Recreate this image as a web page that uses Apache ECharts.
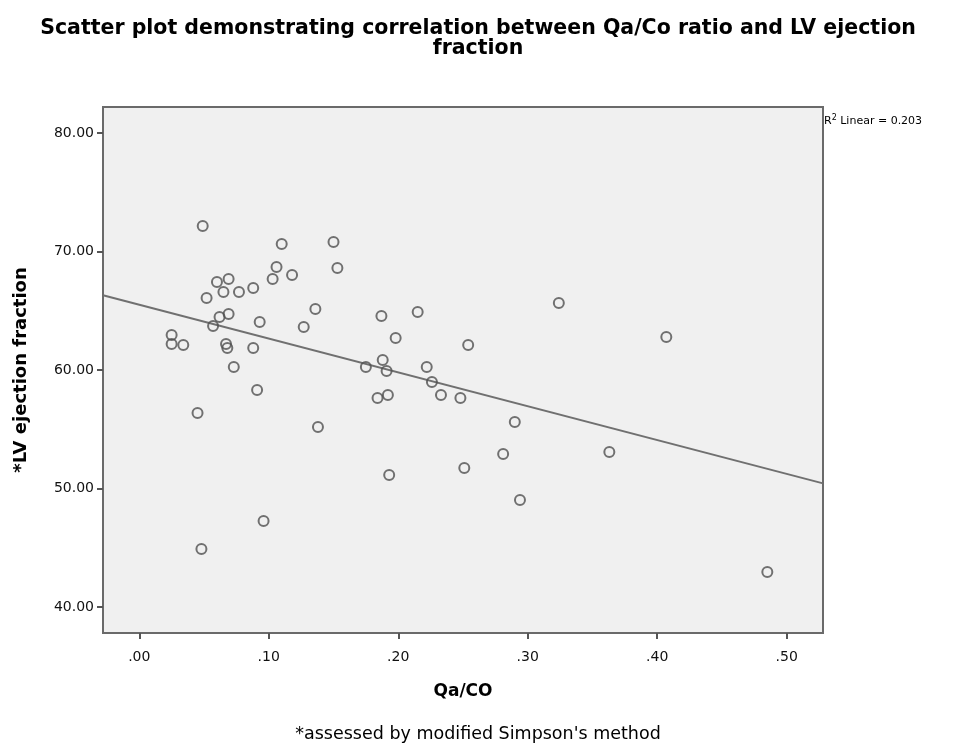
<!DOCTYPE html>
<html>
<head>
<meta charset="utf-8">
<title>Qa/CO vs LV ejection fraction</title>
<script src="https://cdn.jsdelivr.net/npm/echarts@6/dist/echarts.min.js"></script>
<style>
  html, body { margin: 0; padding: 0; background: #fff; }
  #main { width: 956px; height: 748px; }
</style>
</head>
<body>
<div id="main"></div>
<script>
// Qa/CO ratio (x) and LV ejection fraction (y)
var qaCo = [0.049, 0.110, 0.150, 0.106, 0.103, 0.118, 0.153, 0.060, 0.069, 0.065,
            0.077, 0.088, 0.052, 0.136, 0.062, 0.069, 0.057, 0.093, 0.127, 0.187,
            0.215, 0.198, 0.254, 0.324, 0.407, 0.025, 0.025, 0.034, 0.067, 0.068,
            0.088, 0.073, 0.188, 0.191, 0.175, 0.222, 0.226, 0.233, 0.248, 0.192,
            0.184, 0.091, 0.045, 0.138, 0.290, 0.281, 0.363, 0.251, 0.193, 0.294,
            0.096, 0.048, 0.485];
var lvef = [72.15, 70.63, 70.80, 68.69, 67.68, 68.02, 68.61, 67.43, 67.68, 66.58,
            66.58, 66.92, 66.08, 65.15, 64.47, 64.73, 63.71, 64.05, 63.63, 64.56,
            64.89, 62.70, 62.11, 65.65, 62.78, 62.95, 62.19, 62.11, 62.19, 61.86,
            61.86, 60.25, 60.84, 59.92, 60.25, 60.25, 58.99, 57.89, 57.64, 57.89,
            57.64, 58.31, 56.37, 55.19, 55.61, 52.91, 53.08, 51.73, 51.14, 49.03,
            47.26, 44.89, 42.95];
var xTicks = [0, 0.1, 0.2, 0.3, 0.4, 0.5];
var yTicks = [40, 50, 60, 70, 80];
var xRange = [-0.028, 0.528];
var yRange = [37.8, 82.2];
var r2Text = '0.203';

var points = qaCo.map(function (x, i) { return [x, lvef[i]]; });

// least squares fit line
var n = qaCo.length, sx = 0, sy = 0, sxx = 0, sxy = 0;
for (var i = 0; i < n; i++) {
  sx += qaCo[i]; sy += lvef[i];
  sxx += qaCo[i] * qaCo[i]; sxy += qaCo[i] * lvef[i];
}
var slope = (n * sxy - sx * sy) / (n * sxx - sx * sx);
var icpt = (sy - slope * sx) / n;
var fitLine = xRange.map(function (x) { return [x, icpt + slope * x]; });

var myChart = echarts.init(document.getElementById('main'));

var font = 'DejaVu Sans, Liberation Sans, sans-serif';

var option = {
  backgroundColor: '#ffffff',
  animation: false,
  textStyle: { fontFamily: font },
  title: {
    text: 'Scatter plot demonstrating correlation between Qa/Co ratio and LV ejection\nfraction',
    left: 'center',
    top: 14,
    textStyle: { fontSize: 20.5, fontWeight: 'bold', color: '#000', lineHeight: 20, fontFamily: font }
  },
  grid: {
    left: 103, right: 133, top: 107, bottom: 115,
    show: true,
    backgroundColor: '#f0f0f0',
    borderColor: '#6a6a6a',
    borderWidth: 2
  },
  graphic: [{
    type: 'text',
    left: 824, top: 114,
    style: {
      text: '{a|R}{s|2}{a| Linear = ' + r2Text + '}',
      rich: {
        a: { fontSize: 11, fill: '#000', fontFamily: font },
        s: { fontSize: 8, fill: '#000', verticalAlign: 'top', padding: [0, 0, 6, 0], fontFamily: font }
      }
    }
  }, {
    type: 'text',
    left: 'center', top: 725,
    style: { text: "*assessed by modified Simpson's method", fontSize: 17.5, fill: '#000', fontFamily: font }
  }],
  xAxis: {
    type: 'value',
    min: xRange[0], max: xRange[1],
    name: 'Qa/CO',
    nameLocation: 'middle',
    nameGap: 50,
    nameTextStyle: { fontSize: 17, fontWeight: 'bold', color: '#000' },
    axisLine: { show: false, onZero: false },
    splitLine: { show: false },
    axisTick: { show: true, customValues: xTicks, length: 6, lineStyle: { color: '#555', width: 2 } },
    axisLabel: {
      customValues: xTicks,
      margin: 17,
      fontSize: 14,
      color: '#111',
      formatter: function (v) { return v.toFixed(2).replace(/^0/, ''); }
    }
  },
  yAxis: {
    type: 'value',
    min: yRange[0], max: yRange[1],
    name: '*LV ejection fraction',
    nameLocation: 'middle',
    nameGap: 73,
    nameTextStyle: { fontSize: 18, fontWeight: 'bold', color: '#000' },
    axisLine: { show: false, onZero: false },
    splitLine: { show: false },
    axisTick: { show: true, customValues: yTicks, length: 6, lineStyle: { color: '#555', width: 2 } },
    axisLabel: {
      customValues: yTicks,
      margin: 9,
      fontSize: 14,
      color: '#111',
      formatter: function (v) { return v.toFixed(2); }
    }
  },
  series: [{
    name: 'fit',
    type: 'line',
    data: fitLine,
    showSymbol: false,
    silent: true,
    lineStyle: { color: '#707070', width: 2 },
    z: 2
  }, {
    name: 'data',
    type: 'scatter',
    data: points,
    symbol: 'circle',
    symbolSize: 10,
    itemStyle: { color: 'rgba(0,0,0,0)', borderColor: '#505050', borderWidth: 2 },
    z: 3
  }]
};

myChart.setOption(option);
</script>
</body>
</html>
